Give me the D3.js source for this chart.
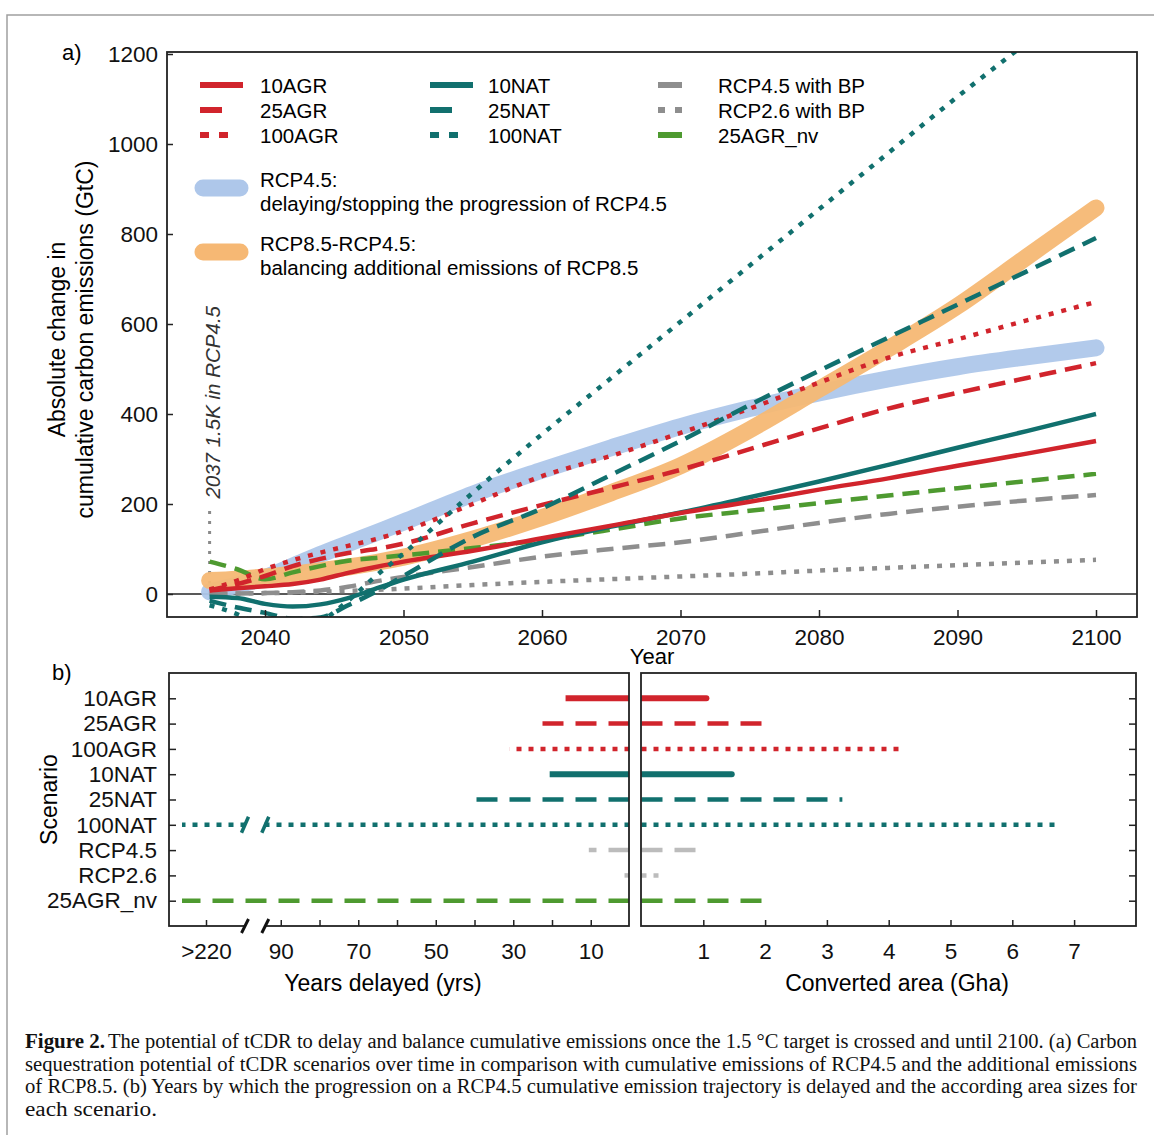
<!DOCTYPE html>
<html>
<head>
<meta charset="utf-8">
<script src="https://cdn.jsdelivr.net/npm/d3@7"></script>
<style>
  body { margin: 0; background: #fff; }
  svg { display: block; font-family: 'Liberation Sans', Arial, sans-serif; }
</style>
</head>
<body>
<script>
// ---- panel a data: absolute change in cumulative carbon emissions (GtC) ----
const years = [2036, 2038, 2040, 2042, 2044, 2046, 2048, 2050, 2055, 2060, 2065, 2070, 2075, 2080, 2085, 2090, 2095, 2100];

const agr10   = [8, 13, 17, 22, 32, 47, 60, 72, 96, 124, 152, 180, 205, 232, 257, 285, 312, 340];
const agr25   = [8, 22, 40, 62, 78, 91, 100, 112, 157, 198, 236, 276, 322, 368, 412, 447, 480, 513];
const agr100  = [10, 30, 55, 75, 92, 107, 122, 140, 200, 262, 307, 358, 412, 470, 525, 566, 608, 649];
const nat10   = [-6, -9, -22, -28, -23, -9, 12, 32, 72, 115, 150, 181, 215, 250, 287, 325, 362, 400];
const nat25   = [-15, -30, -42, -55, -52, -25, 5, 40, 127, 190, 265, 340, 420, 496, 570, 643, 717, 791];
const nat100  = [-25, -45, -75, -90, -62, -15, 40, 90, 225, 355, 480, 605, 730, 855, 980, 1105, 1225, null];
const rcp45bp = [0, 1, 2, 4, 8, 16, 28, 38, 60, 83, 100, 115, 136, 158, 178, 194, 208, 220];
const rcp26bp = [0, 1, 2, 3, 5, 7, 9, 12, 20, 27, 33, 39, 45, 52, 58, 64, 70, 76];
const agr25nv = [72, 55, 33, 48, 62, 74, 80, 86, 102, 120, 143, 168, 185, 202, 219, 235, 251, 267];

// wide reference bands
const rcp45     = [5, 20, 37, 62, 88, 112, 136, 160, 222, 275, 325, 372, 412, 447, 478, 505, 527, 547];
const rcp85diff = [30, 33, 38, 44, 52, 60, 70, 82, 122, 170, 225, 285, 365, 455, 545, 640, 749, 858];

const seriesNames  = ['10AGR', '25AGR', '100AGR', '10NAT', '25NAT', '100NAT', 'RCP4.5 with BP', 'RCP2.6 with BP', '25AGR_nv'];
const seriesValues = [agr10, agr25, agr100, nat10, nat25, nat100, rcp45bp, rcp26bp, agr25nv];
const bandNames    = ['RCP4.5:', 'RCP8.5-RCP4.5:'];
const bandNotes    = ['delaying/stopping the progression of RCP4.5', 'balancing additional emissions of RCP8.5'];
const bandValues   = [rcp45, rcp85diff];

const yTicks = [0, 200, 400, 600, 800, 1000, 1200];
const xTicks = [2040, 2050, 2060, 2070, 2080, 2090, 2100];
const crossYear = 2036;
const crossLabel = '2037 1.5K in RCP4.5';

// ---- panel b data ----
const scenarios   = ['10AGR', '25AGR', '100AGR', '10NAT', '25NAT', '100NAT', 'RCP4.5', 'RCP2.6', '25AGR_nv'];
const yearsDelay  = [16.5, 25.5, 31, 20.6, 41, 230, 10.5, 1.4, 230];   // 230 = off scale (>220)
const areaGha     = [1.05, 2.09, 4.22, 1.46, 3.25, 6.78, 0.97, 0.3, 2.09];
const delayTicks  = [10, 20, 30, 40, 50, 60, 70, 80, 90, 220];
const areaTicks   = [1, 2, 3, 4, 5, 6, 7];

const captionHead = 'Figure 2.';
const caption = [
  'The potential of tCDR to delay and balance cumulative emissions once the 1.5 °C target is crossed and until 2100. (a) Carbon',
  'sequestration potential of tCDR scenarios over time in comparison with cumulative emissions of RCP4.5 and the additional emissions',
  'of RCP8.5. (b) Years by which the progression on a RCP4.5 cumulative emission trajectory is delayed and the according area sizes for',
  'each scenario.'
];

// ---- styles ----
const red = '#d1242c', teal = '#11706e', grey = '#8e8e8e', green = '#4e9a30', lightGrey = '#bcbcbc';
const style = {
  '10AGR':          {color: red,   kind: 'solid'},
  '25AGR':          {color: red,   kind: 'dashed'},
  '100AGR':         {color: red,   kind: 'dotted'},
  '10NAT':          {color: teal,  kind: 'solid'},
  '25NAT':          {color: teal,  kind: 'dashed'},
  '100NAT':         {color: teal,  kind: 'dotted'},
  'RCP4.5 with BP': {color: grey,  kind: 'dashed'},
  'RCP2.6 with BP': {color: grey,  kind: 'dotted'},
  '25AGR_nv':       {color: green, kind: 'dashed'},
  'RCP4.5':         {color: lightGrey, kind: 'dashed'},
  'RCP2.6':         {color: lightGrey, kind: 'dotted'}
};
const bandColors = ['#aec7ea', '#f6b874'];
const dashA = {solid: null, dashed: '17,9', dotted: '5,8'};
const dashB = {solid: null, dashed: '21,12', dotted: '5,7'};

const W = 1154, H = 1135;
const svg = d3.select('body').append('svg').attr('width', W).attr('height', H);

// figure frame
svg.append('path')
   .attr('d', `M7,${H}V15H${W}`)
   .attr('fill', 'none').attr('stroke', '#a0a0a0').attr('stroke-width', 1.5);

// ================= panel a =================
const A = {left: 167, right: 1137, top: 52, bottom: 617};
const x = d3.scaleLinear().domain([2040, 2100]).range([265, 1096]);
const y = d3.scaleLinear().domain([0, 1200]).range([594, 54]);

svg.append('clipPath').attr('id', 'clipA')
   .append('rect')
   .attr('x', A.left).attr('y', A.top)
   .attr('width', A.right - A.left).attr('height', A.bottom - A.top);

const plot = svg.append('g').attr('clip-path', 'url(#clipA)');

// 1.5K crossing marker
plot.append('line')
    .attr('x1', x(crossYear)).attr('x2', x(crossYear))
    .attr('y1', y(0)).attr('y2', y(195))
    .attr('stroke', '#8a8a8a').attr('stroke-width', 3)
    .attr('stroke-dasharray', '3,7');
svg.append('text')
   .attr('transform', `translate(${x(crossYear) + 10},${y(212)}) rotate(-90)`)
   .attr('font-size', 20.5).attr('font-style', 'italic').attr('fill', '#333')
   .text(crossLabel);

const line = d3.line()
               .defined(d => d[1] != null)
               .x(d => x(d[0]))
               .y(d => y(d[1]))
               .curve(d3.curveMonotoneX);

// zero line
plot.append('line')
    .attr('x1', A.left).attr('x2', A.right)
    .attr('y1', y(0)).attr('y2', y(0))
    .attr('stroke', '#222').attr('stroke-width', 1.5);

// bands
bandValues.forEach((vals, i) => {
  plot.append('path')
      .datum(years.map((yr, j) => [yr, vals[j]]))
      .attr('fill', 'none')
      .attr('stroke', bandColors[i])
      .attr('stroke-width', 17)
      .attr('stroke-linecap', 'round')
      .attr('stroke-linejoin', 'round')
      .attr('opacity', 0.95)
      .attr('d', line);
});

// scenario lines (draw grey ones first so colours sit on top)
const drawOrder = [7, 6, 8, 3, 0, 1, 2, 4, 5];
drawOrder.forEach(i => {
  const s = style[seriesNames[i]];
  plot.append('path')
      .datum(years.map((yr, j) => [yr, seriesValues[i][j]]))
      .attr('fill', 'none')
      .attr('stroke', s.color)
      .attr('stroke-width', 4.5)
      .attr('stroke-dasharray', dashA[s.kind])
      .attr('d', line);
});

// axes
const yAxis = svg.append('g')
  .attr('transform', `translate(${A.left},0)`)
  .call(d3.axisLeft(y).tickValues(yTicks).tickFormat(d3.format('d'))
          .tickSizeInner(-6).tickSizeOuter(0).tickPadding(9));
const xAxis = svg.append('g')
  .attr('transform', `translate(0,${A.bottom})`)
  .call(d3.axisBottom(x).tickValues(xTicks).tickFormat(d3.format('d'))
          .tickSizeInner(-7).tickSizeOuter(0).tickPadding(12));

[yAxis, xAxis].forEach(ax => {
  ax.select('.domain').remove();
  ax.attr('font-size', 22.5).attr('font-family', null);
  ax.selectAll('line').attr('stroke', '#222').attr('stroke-width', 1.5);
  ax.selectAll('text').attr('fill', '#111');
});

svg.append('rect')
   .attr('x', A.left).attr('y', A.top)
   .attr('width', A.right - A.left).attr('height', A.bottom - A.top)
   .attr('fill', 'none').attr('stroke', '#222').attr('stroke-width', 1.8);

svg.append('text').attr('x', 652).attr('y', 664)
   .attr('text-anchor', 'middle').attr('font-size', 22).text('Year');

const yTitle = svg.append('text')
   .attr('transform', `translate(65,${(A.top + A.bottom) / 2 + 5}) rotate(-90)`)
   .attr('text-anchor', 'middle').attr('font-size', 23);
yTitle.append('tspan').attr('x', 0).attr('y', 0).text('Absolute change in');
yTitle.append('tspan').attr('x', 0).attr('y', 28).text('cumulative carbon emissions (GtC)');

svg.append('text').attr('x', 62).attr('y', 60).attr('font-size', 22).text('a)');

// legend
const legend = svg.append('g').attr('class', 'legend');
const legCols = [{sx: 200, tx: 260}, {sx: 430, tx: 488}, {sx: 658, tx: 718}];
const legRows = [85, 110, 135];
seriesNames.forEach((name, i) => {
  const col = Math.floor(i / 3), r = i % 3;
  const s = style[name];
  let len, dash = null;
  if (col < 2) {
    len = s.kind === 'solid' ? 43 : s.kind === 'dashed' ? 22 : 28;
    if (s.kind === 'dotted') dash = '9,10';
  } else {
    len = 24;
    if (s.kind === 'dotted') dash = '7,10';
  }
  legend.append('line')
        .attr('x1', legCols[col].sx).attr('x2', legCols[col].sx + len)
        .attr('y1', legRows[r]).attr('y2', legRows[r])
        .attr('stroke', s.color).attr('stroke-width', 6)
        .attr('stroke-dasharray', dash);
  legend.append('text')
        .attr('x', legCols[col].tx).attr('y', legRows[r] + 7.5)
        .attr('font-size', 20.5).text(name);
});
const bandRows = [188, 252];
bandNames.forEach((name, i) => {
  legend.append('line')
        .attr('x1', 203).attr('x2', 240)
        .attr('y1', bandRows[i]).attr('y2', bandRows[i])
        .attr('stroke', bandColors[i]).attr('stroke-width', 17)
        .attr('stroke-linecap', 'round');
  legend.append('text').attr('x', 260).attr('y', bandRows[i] - 1)
        .attr('font-size', 20.5).text(name);
  legend.append('text').attr('x', 260).attr('y', bandRows[i] + 23)
        .attr('font-size', 20.5).text(bandNotes[i]);
});

// ================= panel b =================
const B = {top: 673, bottom: 926};
const BL = {left: 169, right: 629};
const BR = {left: 641, right: 1136};

const row = d3.scalePoint().domain(scenarios).range([B.top, B.bottom]).padding(1);
// broken axis: 0-95 yrs linear, then compressed break, then >220
const xDelay = d3.scaleLinear().domain([0, 95, 204, 220, 230]).range([629.5, 261.4, 245, 206, 182]);
const xArea = d3.scaleLinear().domain([0, 7]).range([641.5, 641.5 + 7 * 61.8]);
const breakVals = [94, 204];

['clipBL', 'clipBR'].forEach((id, k) => {
  const box = k === 0 ? BL : BR;
  svg.append('clipPath').attr('id', id)
     .append('rect')
     .attr('x', box.left).attr('y', B.top)
     .attr('width', box.right - box.left).attr('height', B.bottom - B.top);
});

const left = svg.append('g').attr('clip-path', 'url(#clipBL)');
const right = svg.append('g').attr('clip-path', 'url(#clipBR)');

scenarios.forEach((name, i) => {
  const s = style[name];
  const w = s.kind === 'solid' ? 6 : 4.5;
  left.append('line')
      .attr('x1', xDelay(0)).attr('x2', xDelay(yearsDelay[i]))
      .attr('y1', row(name)).attr('y2', row(name))
      .attr('stroke', s.color).attr('stroke-width', w)
      .attr('stroke-dasharray', dashB[s.kind]);
  right.append('line')
      .attr('x1', xArea(0)).attr('x2', xArea(areaGha[i]))
      .attr('y1', row(name)).attr('y2', row(name))
      .attr('stroke', s.color).attr('stroke-width', w)
      .attr('stroke-dasharray', dashB[s.kind])
      .attr('stroke-linecap', s.kind === 'solid' ? 'round' : 'butt');
});

// break marks on 100NAT
const breakRow = row('100NAT');
left.append('rect')
    .attr('x', xDelay(breakVals[1]) + 2).attr('y', breakRow - 5)
    .attr('width', xDelay(breakVals[0]) - xDelay(breakVals[1]) - 4).attr('height', 10)
    .attr('fill', '#fff');
breakVals.forEach(v => {
  svg.append('line')
     .attr('x1', xDelay(v) - 3.5).attr('x2', xDelay(v) + 3.5)
     .attr('y1', breakRow + 8).attr('y2', breakRow - 8)
     .attr('stroke', teal).attr('stroke-width', 3.5);
});

// axes panel b
const bLeftY = svg.append('g')
  .attr('transform', `translate(${BL.left},0)`)
  .call(d3.axisLeft(row).tickSizeInner(-7).tickSizeOuter(0).tickPadding(12));
const bRightY = svg.append('g')
  .attr('transform', `translate(${BR.right},0)`)
  .call(d3.axisRight(row).tickSizeInner(-7).tickSizeOuter(0).tickFormat(''));
const bLeftX = svg.append('g')
  .attr('transform', `translate(0,${B.bottom})`)
  .call(d3.axisBottom(xDelay).tickValues(delayTicks)
          .tickFormat(d => d === 220 ? '>220' : (d % 20 === 10 ? d : ''))
          .tickSizeInner(-6).tickSizeOuter(0).tickPadding(17));
const bRightX = svg.append('g')
  .attr('transform', `translate(0,${B.bottom})`)
  .call(d3.axisBottom(xArea).tickValues(areaTicks).tickFormat(d3.format('d'))
          .tickSizeInner(-6).tickSizeOuter(0).tickPadding(17));

[bLeftY, bRightY, bLeftX, bRightX].forEach(ax => {
  ax.select('.domain').remove();
  ax.attr('font-size', 22.5).attr('font-family', null);
  ax.selectAll('line').attr('stroke', '#222').attr('stroke-width', 1.5);
  ax.selectAll('text').attr('fill', '#111');
});

[BL, BR].forEach(box => {
  svg.append('rect')
     .attr('x', box.left).attr('y', B.top)
     .attr('width', box.right - box.left).attr('height', B.bottom - B.top)
     .attr('fill', 'none').attr('stroke', '#222').attr('stroke-width', 1.8);
});

// break on the years axis
svg.append('rect')
   .attr('x', xDelay(breakVals[1]) + 1).attr('y', B.bottom - 3)
   .attr('width', xDelay(breakVals[0]) - xDelay(breakVals[1]) - 2).attr('height', 6)
   .attr('fill', '#fff');
breakVals.forEach(v => {
  svg.append('line')
     .attr('x1', xDelay(v) - 3.5).attr('x2', xDelay(v) + 3.5)
     .attr('y1', B.bottom + 7).attr('y2', B.bottom - 7)
     .attr('stroke', '#111').attr('stroke-width', 3);
});

svg.append('text').attr('x', 383).attr('y', 991)
   .attr('text-anchor', 'middle').attr('font-size', 23).text('Years delayed (yrs)');
svg.append('text').attr('x', 897).attr('y', 991)
   .attr('text-anchor', 'middle').attr('font-size', 23).text('Converted area (Gha)');
svg.append('text')
   .attr('transform', `translate(57,${(B.top + B.bottom) / 2}) rotate(-90)`)
   .attr('text-anchor', 'middle').attr('font-size', 23).text('Scenario');
svg.append('text').attr('x', 52).attr('y', 680).attr('font-size', 22).text('b)');

// ================= caption =================
const cap = svg.append('g')
  .attr('font-family', "'Liberation Serif', 'DejaVu Serif', serif")
  .attr('font-size', 20).attr('fill', '#111');
const capY = [1048, 1071, 1093, 1116];
cap.append('text')
   .attr('x', 25).attr('y', capY[0])
   .attr('font-weight', 'bold')
   .attr('textLength', 80).attr('lengthAdjust', 'spacingAndGlyphs')
   .text(captionHead);
caption.forEach((t, i) => {
  const x0 = i === 0 ? 108 : 25;
  cap.append('text')
     .attr('x', x0).attr('y', capY[i])
     .attr('textLength', i < 3 ? 1137 - x0 : 132)
     .attr('lengthAdjust', 'spacingAndGlyphs')
     .text(t);
});
</script>
</body>
</html>
